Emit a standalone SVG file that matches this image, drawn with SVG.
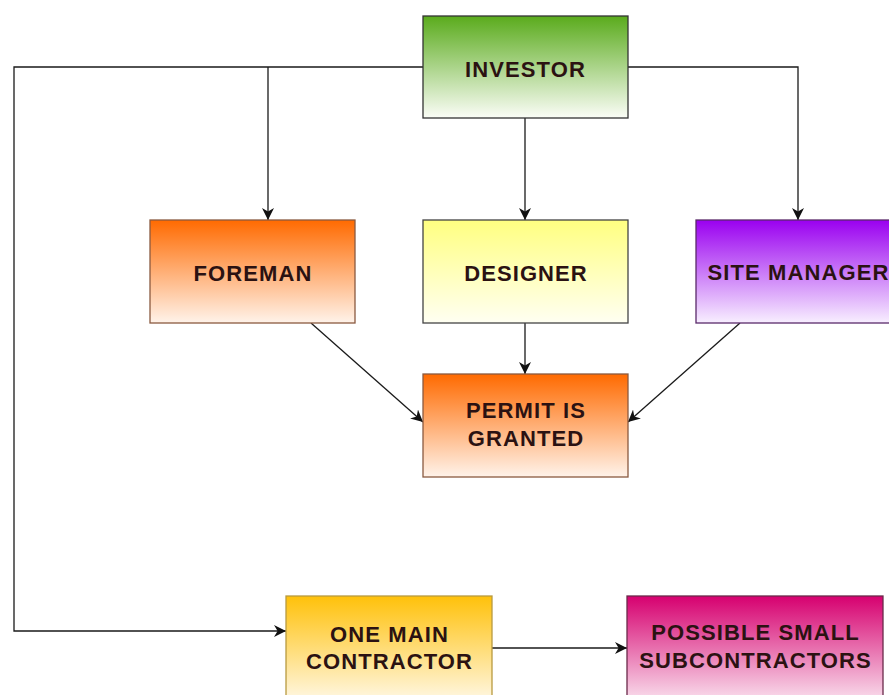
<svg xmlns="http://www.w3.org/2000/svg" width="889" height="695" viewBox="0 0 889 695">
  <defs>
    <linearGradient id="gGreen" x1="0" y1="0" x2="0" y2="1">
      <stop offset="0" stop-color="#5aab1c"/>
      <stop offset="1" stop-color="#fbfdf7"/>
    </linearGradient>
    <linearGradient id="gOrange" x1="0" y1="0" x2="0" y2="1">
      <stop offset="0" stop-color="#ff6a00"/>
      <stop offset="1" stop-color="#fff3ea"/>
    </linearGradient>
    <linearGradient id="gYellow" x1="0" y1="0" x2="0" y2="1">
      <stop offset="0" stop-color="#ffff80"/>
      <stop offset="1" stop-color="#fffff2"/>
    </linearGradient>
    <linearGradient id="gPurple" x1="0" y1="0" x2="0" y2="1">
      <stop offset="0" stop-color="#9a00f0"/>
      <stop offset="1" stop-color="#f8efff"/>
    </linearGradient>
    <linearGradient id="gGold" x1="0" y1="0" x2="0" y2="1">
      <stop offset="0" stop-color="#ffc10a"/>
      <stop offset="1" stop-color="#fffaee"/>
    </linearGradient>
    <linearGradient id="gMagenta" x1="0" y1="0" x2="0" y2="1">
      <stop offset="0" stop-color="#d6006f"/>
      <stop offset="1" stop-color="#fbeaf3"/>
    </linearGradient>
    <marker id="arrow" viewBox="0 0 10 10" refX="10" refY="5" markerWidth="12" markerHeight="12" markerUnits="userSpaceOnUse" orient="auto">
      <path d="M0,0 L10,5 L0,10 L3,5 Z" fill="#111"/>
    </marker>
  </defs>
  <style>
    .box { stroke-width: 1.3; }
    .lbl { font-family: "Liberation Sans", Arial, sans-serif; font-weight: bold; font-size: 22px; letter-spacing: 1.1px; text-anchor: middle; fill: #2b1212; }
    .edge { fill: none; stroke: #1a1a1a; stroke-width: 1.3; }
  </style>
  <rect width="889" height="695" fill="#ffffff"/>

  <g id="connectors">
    <path class="edge" d="M423,67 H14 V631 H286" marker-end="url(#arrow)"/>
    <path class="edge" d="M268,67 V220" marker-end="url(#arrow)"/>
    <path class="edge" d="M628,67 H798 V220" marker-end="url(#arrow)"/>
    <path class="edge" d="M525,118 V220" marker-end="url(#arrow)"/>
    <path class="edge" d="M525,323 V374" marker-end="url(#arrow)"/>
    <path class="edge" d="M311,323 L423,422" stroke="#777" marker-end="url(#arrow)"/>
    <path class="edge" d="M740,323 L628,422" stroke="#333" marker-end="url(#arrow)"/>
    <path class="edge" d="M492,648 H627" marker-end="url(#arrow)"/>
  </g>

  <g id="investor">
    <rect class="box" x="423" y="16" width="205" height="102" fill="url(#gGreen)" stroke="#333"/>
    <text class="lbl" x="525.5" y="77">INVESTOR</text>
  </g>

  <g id="foreman">
    <rect class="box" x="150" y="220" width="205" height="103" fill="url(#gOrange)" stroke="#8a5a40"/>
    <text class="lbl" x="253" y="281" fill="#3a1010">FOREMAN</text>
  </g>

  <g id="designer">
    <rect class="box" x="423" y="220" width="205" height="103" fill="url(#gYellow)" stroke="#444"/>
    <text class="lbl" x="526" y="281">DESIGNER</text>
  </g>

  <g id="site-manager">
    <rect class="box" x="696" y="220" width="205" height="103" fill="url(#gPurple)" stroke="#5a2a6a"/>
    <text class="lbl" x="798.5" y="280" fill="#3a0f3a">SITE MANAGER</text>
  </g>

  <g id="permit">
    <rect class="box" x="423" y="374" width="205" height="103" fill="url(#gOrange)" stroke="#8a5a40"/>
    <text class="lbl" x="526" y="418" fill="#3a1010">PERMIT IS</text>
    <text class="lbl" x="526" y="446" fill="#3a1010">GRANTED</text>
  </g>

  <g id="main-contractor">
    <rect class="box" x="286" y="596" width="206" height="110" fill="url(#gGold)" stroke="#b89a40"/>
    <text class="lbl" x="389.5" y="642">ONE MAIN</text>
    <text class="lbl" x="389.5" y="669">CONTRACTOR</text>
  </g>

  <g id="subcontractors">
    <rect class="box" x="627" y="596" width="256" height="110" fill="url(#gMagenta)" stroke="#6a2a4a"/>
    <text class="lbl" x="755.5" y="640" fill="#3a0f20">POSSIBLE SMALL</text>
    <text class="lbl" x="755.5" y="668" fill="#3a0f20">SUBCONTRACTORS</text>
  </g>
</svg>
